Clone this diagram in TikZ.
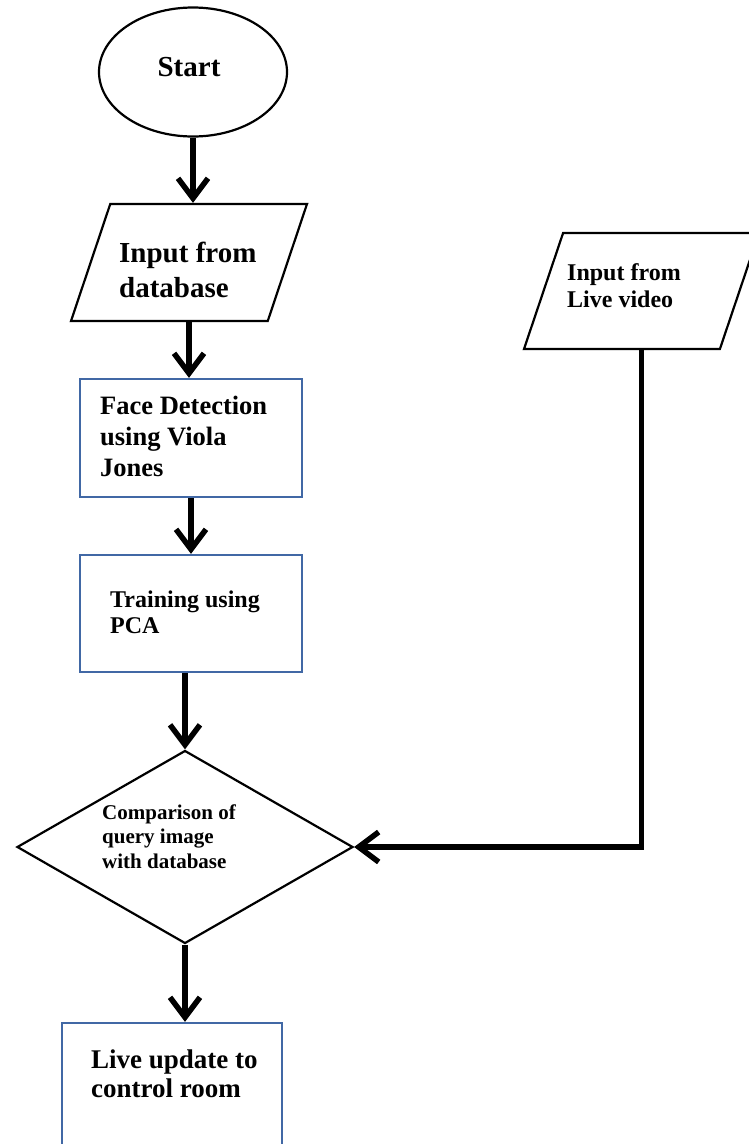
\documentclass[tikz,border=0pt]{standalone}
\usepackage{fontspec}
\setmainfont{Liberation Serif}
\usetikzlibrary{shapes.geometric,arrows.meta}
\definecolor{boxblue}{RGB}{65,104,165}
\begin{document}
\begin{tikzpicture}[x=1pt,y=-1pt,
  flow/.style={line width=5.5pt,-{Straight Barb[length=20pt,width=30pt]}},
  outline/.style={draw=black,line width=2.2pt,inner sep=0pt},
  bluebox/.style={draw=boxblue,line width=2.2pt,inner sep=0pt,minimum width=222pt},
  para/.style={draw=black,line width=2.2pt,inner sep=2pt,trapezium,trapezium left angle=76,trapezium right angle=104,trapezium stretches=true},
  txt/.style={align=left,inner sep=0pt,anchor=base west,font=\bfseries}]
\clip (0,0) rectangle (749,1144);
% shapes
\node[outline,ellipse,minimum width=188pt,minimum height=129pt] (start) at (193,72) {};
\node[para,minimum width=236pt,minimum height=117pt] (indb) at (189,262.5) {};
\node[bluebox,minimum height=118pt] (fd) at (191,438) {};
\node[bluebox,minimum height=117pt] (tr) at (191,613.5) {};
\node[outline,diamond,minimum width=336pt,minimum height=193pt] (cmp) at (185,847) {};
\node[bluebox,minimum width=220pt,minimum height=140pt] (lu) at (172,1093) {};
\node[para,minimum width=235pt,minimum height=116pt] (live) at (641.5,291) {};
% texts (base anchor = baseline of the last line)
\node[inner sep=0pt,anchor=base,font=\fontsize{29}{35}\selectfont\bfseries] (tstart) at (189,76) {Start};
\node[txt,font=\fontsize{29}{35}\selectfont\bfseries] (tindb) at (119,297) {Input from\\database};
\node[txt,font=\fontsize{26.5}{31}\selectfont\bfseries] (tfd) at (100,476) {Face Detection\\using Viola\\Jones};
\node[txt,font=\fontsize{24}{26}\selectfont\bfseries] (ttr) at (110,633) {Training using\\PCA};
\node[txt,font=\fontsize{24}{27}\selectfont\bfseries] (tlive) at (567,307) {Input from\\Live video};
\node[txt,font=\fontsize{21}{24.5}\selectfont\bfseries] (tcmp) at (102,868) {Comparison of\\query image\\with database};
\node[txt,font=\fontsize{27}{29}\selectfont\bfseries] (tlu) at (91,1097) {Live update to\\control room};
% connectors
\draw[flow] (start.south) -- (start.south |- indb.north);
\draw[flow] (indb.south) -- (indb.south |- fd.north);
\draw[flow] (fd.south) -- (tr.north);
\draw[flow] (tr.south -| cmp.north) -- (cmp.north);
\draw[flow] (cmp.south) -- (cmp.south |- lu.north);
\draw[flow] (live.south) |- (cmp.east);
\end{tikzpicture}
\end{document}
